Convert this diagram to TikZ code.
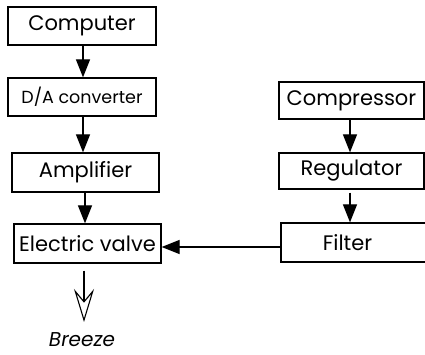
\documentclass[tikz,border=0pt]{standalone}
\usepackage{fontspec}
\setmainfont{Poppins}
\usetikzlibrary{arrows.meta,calc}
\begin{document}
\begin{tikzpicture}[x=1pt,y=-1pt,
  box/.style={draw,line width=1.2pt,inner sep=0pt,anchor=center,font=\fontsize{21}{24}\selectfont},
  arr/.style={line width=1.2pt,-{Triangle[length=18pt,width=14pt]}},
  openarr/.style={line width=1.1pt,-{Stealth[open,length=33pt,width=20pt,inset=12pt]}}]
\useasboundingbox (0,0) rectangle (425,355);
\node[box,minimum width=148pt,minimum height=38pt] (comp) at (82,26) {Computer};
\node[box,minimum width=148pt,minimum height=38pt,font=\fontsize{17.5}{20}\selectfont] (da) at (82,97) {D/A converter};
\node[box,minimum width=147pt,minimum height=39pt] (amp) at (85.5,172.5) {Amplifier};
\node[box,minimum width=147pt,minimum height=39pt] (valve) at (87.5,243.5) {Electric valve};
\node[box,minimum width=145pt,minimum height=37pt] (compr) at (351.5,100.5) {Compressor};
\node[box,minimum width=145pt,minimum height=36pt] (reg) at (351.5,171) {Regulator};
\node[draw,line width=1.2pt,minimum width=150pt,minimum height=39pt,inner sep=0pt] (filt) at (356,242.5) {};
\node[font=\fontsize{20}{23}\selectfont\itshape,inner sep=0pt,anchor=base] (breeze) at (82,346) {Breeze};
\node[font=\fontsize{21}{24}\selectfont] (filtxt) at (347.5,242.5) {Filter};
\coordinate (btip) at (84,322);
\draw[arr] (comp.south -| 83,0) -- (da.north -| 83,0);
\draw[arr] (da.south -| 83,0) -- (amp.north -| 83,0);
\draw[arr] (amp.south -| 85,0) -- (valve.north -| 85,0);
\draw[arr] (compr.south -| 350,0) -- (reg.north -| 350,0);
\draw[arr] ($(reg.south -| 350,0)+(0,3)$) -- (filt.north -| 350,0);
\draw[arr] ($(filt.west)+(0,4.5)$) -- ($(valve.east)+(0,3.5)$);
\draw[openarr] ($(valve.south -| 84,0)+(0,7)$) -- (btip);
\end{tikzpicture}
\end{document}
